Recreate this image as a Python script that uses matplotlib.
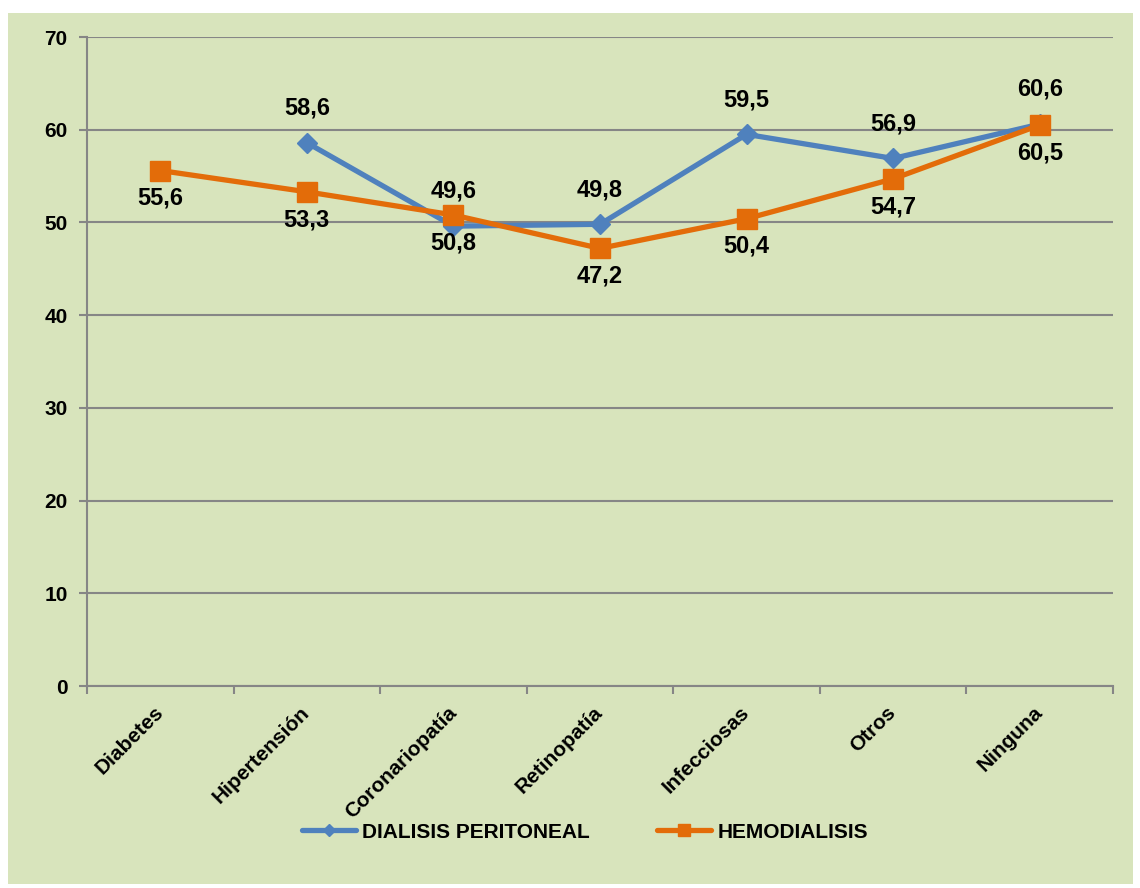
import matplotlib.pyplot as plt
import numpy as np
from matplotlib.patches import Rectangle

categorias = ["Diabetes", "Hipertensión", "Coronariopatía", "Retinopatía",
              "Infecciosas", "Otros", "Ninguna"]
dialisis_peritoneal = [np.nan, 58.6, 49.6, 49.8, 59.5, 56.9, 60.6]
hemodialisis = [55.6, 53.3, 50.8, 47.2, 50.4, 54.7, 60.5]
y_ticks = [0, 10, 20, 30, 40, 50, 60, 70]

plt.rcParams['font.family'] = ['Liberation Sans', 'DejaVu Sans']
plt.rcParams['font.weight'] = 'bold'

BG = '#d8e4bc'
BLUE = '#4f81bd'
ORANGE = '#e36c09'
GRID = '#868686'
FS = 15
FS_LBL = 17

fig = plt.figure(figsize=(11.4, 8.88), dpi=100)
fig.patch.set_facecolor('white')
fig.patches.append(Rectangle((8 / 1140, 1 - 884 / 888), 1125 / 1140, 871 / 888,
                             transform=fig.transFigure, facecolor=BG,
                             edgecolor='none', zorder=-10))

ax = fig.add_axes([87 / 1140, 1 - 686 / 888, 1026 / 1140, 649 / 888])
ax.set_facecolor('none')
ax.set_zorder(2)

x = np.arange(len(categorias))
ax.plot(x, dialisis_peritoneal, color=BLUE, lw=3.8, marker='D', ms=10,
        label='DIALISIS PERITONEAL', zorder=3, solid_capstyle='round')
ax.plot(x, hemodialisis, color=ORANGE, lw=3.8, marker='s', ms=15,
        label='HEMODIALISIS', zorder=4, solid_capstyle='round')

for xi, v in zip(x, dialisis_peritoneal):
    if not np.isnan(v):
        ax.annotate(f"{v:.1f}".replace('.', ','), (xi, v), xytext=(0, 25),
                    textcoords='offset points', ha='center', va='center',
                    fontsize=FS_LBL, fontweight='bold', zorder=5)
for xi, v in zip(x, hemodialisis):
    ax.annotate(f"{v:.1f}".replace('.', ','), (xi, v), xytext=(0, -20),
                textcoords='offset points', ha='center', va='center',
                fontsize=FS_LBL, fontweight='bold', zorder=5)

ax.set_xlim(-0.5, len(categorias) - 0.5)
ax.set_ylim(0, 70)
ax.set_yticks(y_ticks)
ax.set_yticklabels([str(t) for t in y_ticks], fontsize=FS, fontweight='bold')
ax.yaxis.grid(True, color=GRID, lw=1.5)
ax.set_axisbelow(True)

ax.set_xticks(x)
ax.set_xticklabels(categorias, rotation=45, ha='right', va='center',
                   rotation_mode='anchor', fontsize=FS, fontweight='bold')
ax.tick_params(axis='x', which='major', length=0, pad=17)
ax.set_xticks(np.arange(-0.5, len(categorias)), minor=True)
ax.tick_params(axis='x', which='minor', length=6, color=GRID, width=1.5)
ax.tick_params(axis='y', length=6, color=GRID, width=1.5, pad=8)

for s in ['top', 'right']:
    ax.spines[s].set_visible(False)
for s in ['left', 'bottom']:
    ax.spines[s].set_color(GRID)
    ax.spines[s].set_linewidth(1.5)

fig.legend(loc='center', bbox_to_anchor=(0.513, 1 - 832 / 888), ncol=2,
           frameon=False, prop={'size': FS, 'weight': 'bold'},
           handlelength=2.6, columnspacing=3.2, handletextpad=0.3,
           markerscale=0.6)

fig.savefig('out.png', dpi=100, facecolor='white')
